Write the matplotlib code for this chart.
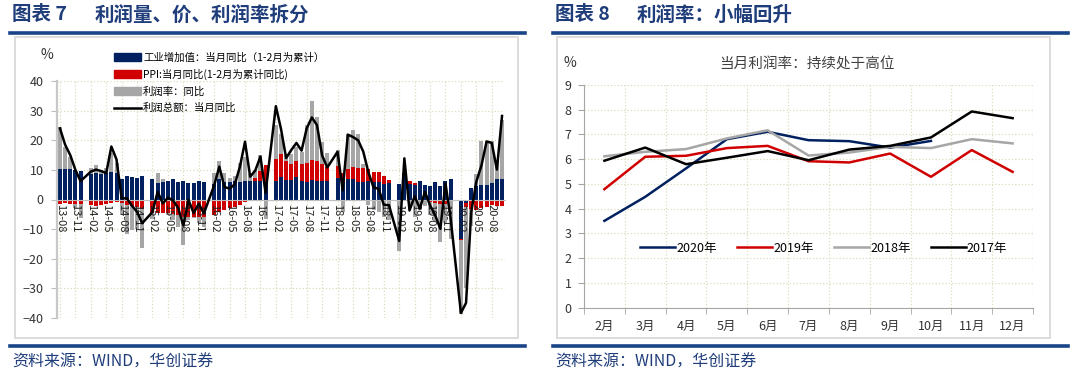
import numpy as np
import matplotlib
matplotlib.use("Agg")
import matplotlib.pyplot as plt
from matplotlib.lines import Line2D
from matplotlib.patches import Rectangle, Patch

plt.rcParams['font.family'] = ['Noto Sans CJK SC', 'DejaVu Sans']
plt.rcParams['axes.unicode_minus'] = True

# ---------------- left chart data (2013-08 .. 2020-10, January left empty) ----------------
tick_labels = ['13-08', '13-11', '14-02', '14-05', '14-08', '14-11', '15-02', '15-05', '15-08',
               '15-11', '16-02', '16-05', '16-08', '16-11', '17-02', '17-05', '17-08', '17-11',
               '18-02', '18-05', '18-08', '18-11', '19-02', '19-05', '19-08', '19-11', '20-02',
               '20-05', '20-08']

iva = [10.4, 10.2, 10.3, 10.0, 9.7,
       None, 8.6, 8.8, 8.7, 8.8, 9.2, 9.0, 6.9, 8.0, 7.7, 7.2, 7.9,
       None, 6.8, 5.6, 5.9, 6.1, 6.8, 6.0, 6.1, 5.7, 5.6, 6.2, 5.9,
       None, 5.4, 6.8, 6.0, 6.0, 6.2, 6.0, 6.3, 6.1, 6.1, 6.2, 6.0,
       None, 6.3, 7.6, 6.5, 6.5, 7.6, 6.4, 6.0, 6.6, 6.2, 6.1, 6.2,
       None, 7.2, 6.0, 7.0, 6.8, 6.0, 6.0, 6.1, 5.8, 5.9, 5.4, 5.7,
       None, 5.3, 8.5, 5.4, 5.0, 6.3, 4.8, 4.4, 5.8, 4.7, 6.2, 6.9,
       None, -13.5, -1.1, 3.9, 4.4, 4.8, 4.8, 5.6, 6.9, 6.9]

ppi = [-1.6, -1.3, -1.5, -1.4, -1.4,
       None, -1.8, -2.3, -2.0, -1.4, -1.1, -0.9, -1.2, -1.8, -2.2, -2.7, -3.3,
       None, -4.5, -4.6, -4.6, -4.6, -4.8, -5.4, -5.9, -5.9, -5.9, -5.9, -5.9,
       None, -5.1, -4.3, -3.4, -2.8, -2.6, -1.7, -0.8, 0.1, 1.2, 3.3, 5.5,
       None, 7.3, 7.6, 6.4, 5.5, 5.5, 5.5, 6.3, 6.9, 6.9, 5.8, 4.9,
       None, 4.0, 3.1, 3.4, 4.1, 4.7, 4.6, 4.1, 3.6, 3.3, 2.7, 0.9,
       None, 0.1, 0.4, 0.9, 0.6, 0.0, -0.3, -0.8, -1.2, -1.6, -1.4, -0.5,
       None, -0.2, -1.5, -3.1, -3.7, -3.0, -2.4, -2.0, -2.1, -2.1]

margin = [14.0, 7.5, 4.0, -1.4, -4.9,
          None, 2.0, 2.8, 1.2, 1.8, 6.5, 3.2, -4.0, -10.0, -8.0, -7.3, -13.2,
          None, -2.0, 3.5, 1.1, -0.7, -2.2, -3.9, -9.6, -1.1, -0.5, -2.1, -3.4,
          None, 3.6, 6.3, 2.8, 1.1, 1.7, 6.4, 8.0, 2.4, 2.7, 5.5, -6.7,
          None, 11.5, 6.8, 2.0, 3.5, 4.6, 4.1, 12.8, 19.7, 14.8, 7.5, 4.6,
          None, 5.6, -4.3, 11.6, 12.5, 11.3, 1.4, -1.8, -3.6, -4.3, -5.9, -7.0,
          None, -17.3, -0.5, -3.0, -6.0, -3.7, -2.0, -4.6, -5.9, -12.9, -6.6, -13.0,
          None, -25.0, -27.4, -6.0, 4.3, 15.0, 15.0, 14.0, 6.0, 20.0]

profit = [24.0, 18.5, 15.0, 10.0, 6.2,
          None, 9.4, 10.1, 9.6, 8.9, 17.9, 13.5, 0.4, 0.4, -2.1, -4.2, -8.0,
          None, -4.2, 2.6, -1.3, 0.6, -0.3, -2.9, -8.8, -0.1, -4.6, -1.4, -4.7,
          None, 4.8, 11.1, 4.2, 3.7, 5.1, 11.0, 19.5, 7.7, 9.8, 14.5, 2.3,
          None, 31.5, 23.8, 14.0, 16.7, 19.1, 16.5, 24.0, 27.7, 25.1, 14.9, 10.8,
          None, 16.1, 3.1, 21.9, 21.1, 20.0, 16.2, 9.2, 4.1, 3.6, -1.8, -1.9,
          None, -14.0, 13.9, -3.7, 1.1, -3.1, 2.6, -2.0, -5.3, -9.9, 5.4, -6.3,
          None, -38.3, -34.9, -4.3, 6.0, 11.5, 19.6, 19.1, 10.1, 28.2]

# ---------------- right chart data ----------------
months = ['2月', '3月', '4月', '5月', '6月', '7月', '8月', '9月', '10月', '11月', '12月']
rate_2020 = [3.51, 4.48, 5.63, 6.81, 7.11, 6.77, 6.73, 6.47, 6.74, None, None]
rate_2019 = [4.79, 6.10, 6.14, 6.45, 6.54, 5.92, 5.87, 6.23, 5.29, 6.37, 5.49]
rate_2018 = [6.12, 6.30, 6.41, 6.84, 7.17, 6.15, 6.27, 6.50, 6.45, 6.81, 6.64]
rate_2017 = [5.94, 6.47, 5.80, 6.06, 6.33, 5.96, 6.39, 6.54, 6.88, 7.93, 7.66]

NAVY = '#002060'
RED = '#D00000'
GRAY = '#A6A6A6'
HDR = '#1F3D7A'
RULE = '#1A4488'
GRID = '#DCDCC0'

W, H = 1074, 374
fig = plt.figure(figsize=(W / 100, H / 100), dpi=100)


def fx(px):
    return px / W


def fy(py):
    return 1 - py / H


# ---------------- decorations: headers, frames, footers ----------------
for x0, x1 in [(10, 525), (553, 1068)]:
    fig.add_artist(Line2D([fx(x0), fx(x1)], [fy(33), fy(33)], color=RULE, lw=2.6))
    fig.add_artist(Line2D([fx(x0), fx(x1)], [fy(346), fy(346)], color=RULE, lw=2.6))
for x0, x1 in [(15, 518), (557, 1050)]:
    fig.add_artist(Rectangle((fx(x0), fy(338)), fx(x1) - fx(x0), fy(37) - fy(338),
                             fill=False, ec='#D9D9D9', lw=1.3, transform=fig.transFigure))

fig.text(fx(12), fy(15), '图表 7', fontsize=14, fontweight='bold', color=HDR, va='center')
fig.text(fx(95), fy(15), '利润量、价、利润率拆分', fontsize=14, fontweight='bold', color=HDR, va='center')
fig.text(fx(555), fy(15), '图表 8', fontsize=14, fontweight='bold', color=HDR, va='center')
fig.text(fx(637), fy(15), '利润率：小幅回升', fontsize=14, fontweight='bold', color=HDR, va='center')
fig.text(fx(12), fy(362), '资料来源：WIND，华创证券', fontsize=11.5, color=HDR, va='center', style='italic')
fig.text(fx(555), fy(362), '资料来源：WIND，华创证券', fontsize=11.5, color=HDR, va='center', style='italic')

# ---------------- left chart ----------------
ax1 = fig.add_axes([fx(57.4), fy(318), fx(504.6) - fx(57.4), fy(81) - fy(318)])
# move the x axis to the zero line first (this resets the ticks)
ax1.spines['bottom'].set_position(('data', 0))
n = len(iva)
x = np.arange(n)
tick_pos = np.arange(0, n, 3)[:len(tick_labels)]

# dotted grid drawn by hand so it sits under the bars while tick labels stay on top
for yv in np.arange(-40, 41, 10):
    ax1.axhline(yv, color=GRID, ls=':', lw=0.9, zorder=0)
for xv in tick_pos:
    ax1.axvline(xv, color=GRID, ls=':', lw=0.9, zorder=0)

pos_base = np.zeros(n)
neg_base = np.zeros(n)
for series, col in [(iva, NAVY), (ppi, RED), (margin, GRAY)]:
    v = np.array([np.nan if s is None else s for s in series], dtype=float)
    ok = ~np.isnan(v)
    v0 = np.nan_to_num(v)
    bottom = np.where(v0 >= 0, pos_base, neg_base)
    ax1.bar(x[ok], v0[ok], bottom=bottom[ok], width=0.78, color=col, lw=0, zorder=1)
    pos_base += np.clip(v0, 0, None)
    neg_base += np.clip(v0, None, 0)

p = np.array([np.nan if s is None else s for s in profit], dtype=float)
okp = ~np.isnan(p)
ax1.plot(x[okp], p[okp], color='black', lw=1.8, zorder=3)

ax1.set_xlim(-0.5, n - 0.5)
ax1.set_ylim(-40, 40)
ax1.set_yticks(np.arange(-40, 41, 10))
ax1.set_xticks(tick_pos)
ax1.set_xticklabels(tick_labels, fontsize=8, color='#222222')
plt.setp(ax1.get_xticklabels(), rotation=-90)
ax1.xaxis.set_zorder(2.5)
ax1.tick_params(axis='x', length=0, pad=3)
ax1.tick_params(axis='y', length=4, color='#BFBFBF', labelsize=9, labelcolor='#333333', pad=6)
ax1.spines['bottom'].set_color('#BFBFBF')
ax1.spines['left'].set_color('#C8C8C8')
ax1.spines['left'].set_linewidth(1.6)
for s in ['top', 'right']:
    ax1.spines[s].set_visible(False)
fig.text(fx(47), fy(55), '%', fontsize=10, color='#333333', ha='center', va='center')

handles = [Patch(color=NAVY), Patch(color=RED), Patch(color=GRAY), Line2D([], [], color='black', lw=1.8)]
labels = ['工业增加值：当月同比（1-2月为累计）', 'PPI:当月同比(1-2月为累计同比)', '利润率：同比', '利润总额：当月同比']
fig.legend(handles, labels, loc='upper left', bbox_to_anchor=(fx(114), fy(52)),
           frameon=False, fontsize=7.5, handlelength=2.6, handleheight=0.75, handletextpad=0.2,
           labelspacing=0.62, borderpad=0, borderaxespad=0)

# ---------------- right chart ----------------
ax2 = fig.add_axes([fx(584), fy(307.7), fx(1033) - fx(584), fy(85) - fy(307.7)])
xm = np.arange(len(months))
for series, col, lab in [(rate_2020, NAVY, '2020年'), (rate_2019, RED, '2019年'),
                         (rate_2018, GRAY, '2018年'), (rate_2017, 'black', '2017年')]:
    v = np.array([np.nan if s is None else s for s in series], dtype=float)
    ax2.plot(xm, v, color=col, lw=1.8, label=lab)

ax2.set_xlim(-0.5, len(months) - 0.5)
ax2.set_ylim(0, 9)
ax2.set_yticks(np.arange(0, 10, 1))
ax2.set_xticks(xm)
ax2.set_xticklabels(months, fontsize=9, color='#333333')
ax2.set_xticks(np.arange(-0.5, len(months), 1), minor=True)
ax2.tick_params(axis='x', which='major', length=0, pad=9)
ax2.tick_params(axis='x', which='minor', length=4, color='#A6A6A6')
ax2.tick_params(axis='y', length=4, color='#A6A6A6', labelsize=9, labelcolor='#333333', pad=5)
ax2.spines['left'].set_color('#A6A6A6')
ax2.spines['bottom'].set_color('#A6A6A6')
for s in ['top', 'right']:
    ax2.spines[s].set_visible(False)
ax2.set_axisbelow(True)
ax2.grid(True, axis='y', linestyle=':', color=GRID, lw=0.9)
ax2.grid(True, axis='x', which='minor', linestyle=':', color=GRID, lw=0.9)
ax2.legend(loc='center', bbox_to_anchor=(0.534, 0.268), ncol=4, frameon=False, fontsize=9,
           handlelength=2.8, handletextpad=0.1, columnspacing=1.6)
fig.text(fx(570), fy(63), '%', fontsize=10, color='#333333', ha='center', va='center')
fig.text(fx(807), fy(64), '当月利润率：持续处于高位', fontsize=10.5, color='#404040', ha='center', va='center')

fig.savefig('out.png', dpi=100)
